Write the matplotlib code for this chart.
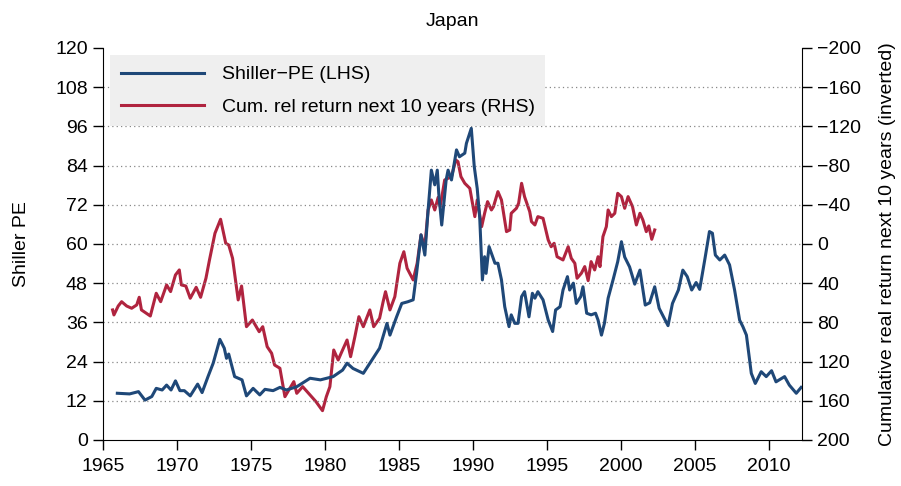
import matplotlib
matplotlib.use("Agg")
import matplotlib.pyplot as plt
import numpy as np

plt.rcParams['font.family'] = ['Liberation Sans', 'DejaVu Sans']

# Shiller PE (left axis)
pe_years = [1965.97, 1966.8, 1967.4, 1967.84, 1968.3, 1968.6, 1969.0, 1969.3, 1969.6, 1969.9,
            1970.2, 1970.5, 1970.9, 1971.4, 1971.7, 1972.1, 1972.45, 1972.9, 1973.2, 1973.35,
            1973.5, 1973.9, 1974.4, 1974.7, 1975.15, 1975.6, 1975.95, 1976.5, 1976.96, 1977.4,
            1978.1, 1979.0, 1979.7, 1980.56, 1981.2, 1981.5, 1981.9, 1982.6, 1983.04, 1983.7,
            1984.2, 1984.4, 1984.85, 1985.2, 1985.6, 1985.97, 1986.2, 1986.5, 1986.76, 1986.98,
            1987.2, 1987.43, 1987.6, 1987.7, 1987.9, 1988.2, 1988.33, 1988.56, 1988.9, 1989.1,
            1989.46, 1989.57, 1989.9, 1990.1, 1990.3, 1990.47, 1990.65, 1990.8, 1990.9, 1991.1,
            1991.5, 1991.7, 1991.94, 1992.16, 1992.45, 1992.6, 1992.84, 1993.06, 1993.3, 1993.5,
            1993.8, 1994.03, 1994.2, 1994.4, 1994.75, 1995.1, 1995.4, 1995.6, 1995.9, 1996.1,
            1996.4, 1996.55, 1996.8, 1997.0, 1997.3, 1997.45, 1997.7, 1998.0, 1998.3, 1998.47,
            1998.7, 1998.9, 1999.15, 1999.5, 1999.8, 2000.05, 2000.27, 2000.6, 2000.95, 2001.3,
            2001.66, 2001.96, 2002.3, 2002.6, 2003.2, 2003.5, 2003.9, 2004.2, 2004.5, 2004.8,
            2005.1, 2005.34, 2005.7, 2006.0, 2006.2, 2006.4, 2006.7, 2007.03, 2007.36, 2007.7,
            2008.04, 2008.26, 2008.5, 2008.83, 2009.1, 2009.5, 2009.84, 2010.2, 2010.5, 2011.08,
            2011.4, 2011.87, 2012.2]
pe_values = [14.3, 14.1, 14.8, 12.2, 13.3, 15.8, 15.3, 16.8, 15.3, 18.1,
             15.1, 15.1, 13.5, 17.1, 14.5, 19.4, 23.5, 30.8, 28.1, 25.0,
             26.3, 19.4, 18.4, 13.5, 15.8, 13.8, 15.5, 15.1, 16.1, 15.3,
             16.3, 18.9, 18.4, 19.4, 21.4, 23.5, 21.9, 20.4, 23.5, 28.1,
             35.7, 32.1, 37.7, 41.8, 42.3, 42.9, 51.0, 62.8, 56.6, 70.4,
             82.6, 78.1, 82.6, 75.5, 65.8, 79.6, 82.6, 79.6, 88.8, 86.7,
             87.8, 90.8, 95.4, 83.7, 77.0, 68.0, 49.0, 56.1, 51.0, 59.2,
             54.1, 54.1, 49.0, 40.8, 34.7, 38.3, 35.7, 35.7, 43.9, 45.4,
             37.7, 44.9, 43.4, 45.4, 42.9, 36.7, 33.2, 39.8, 40.8, 45.9,
             50.0, 45.9, 48.0, 41.8, 43.9, 46.9, 38.8, 38.3, 38.8, 36.7,
             32.1, 35.7, 43.4, 49.3, 54.6, 60.7, 56.0, 53.0, 47.7, 52.0,
             41.3, 42.0, 46.9, 40.3, 35.0, 41.8, 45.9, 52.0, 50.0, 45.9,
             48.2, 46.1, 55.6, 63.8, 63.3, 56.6, 55.1, 56.6, 53.6, 45.9,
             36.7, 34.7, 32.1, 20.4, 17.3, 20.9, 19.4, 21.2, 17.8, 19.4,
             16.8, 14.3, 16.1]

# Cumulative real return next 10 years (right axis, inverted)
ret_years = [1965.65, 1965.74, 1966.03, 1966.26, 1966.6, 1966.94, 1967.28, 1967.45, 1967.6, 1968.2,
             1968.6, 1968.9, 1969.3, 1969.57, 1969.9, 1970.16, 1970.3, 1970.6, 1970.9, 1971.3,
             1971.6, 1971.96, 1972.2, 1972.57, 1972.95, 1973.3, 1973.5, 1973.76, 1974.0, 1974.14,
             1974.37, 1974.7, 1975.1, 1975.56, 1975.8, 1976.1, 1976.4, 1976.6, 1976.96, 1977.14,
             1977.3, 1977.5, 1977.9, 1978.1, 1978.5, 1979.0, 1979.4, 1979.84, 1980.1, 1980.34,
             1980.6, 1980.9, 1981.1, 1981.5, 1981.74, 1982.03, 1982.3, 1982.6, 1983.04, 1983.3,
             1983.7, 1983.94, 1984.1, 1984.4, 1984.73, 1985.07, 1985.34, 1985.56, 1985.97, 1986.24,
             1986.5, 1986.76, 1986.98, 1987.2, 1987.43, 1987.66, 1987.8, 1988.1, 1988.56, 1988.85,
             1989.0, 1989.2, 1989.46, 1989.8, 1990.14, 1990.3, 1990.6, 1990.8, 1991.0, 1991.26,
             1991.4, 1991.7, 1991.94, 1992.28, 1992.5, 1992.6, 1992.95, 1993.1, 1993.3, 1993.5,
             1993.85, 1993.97, 1994.2, 1994.4, 1994.75, 1995.1, 1995.3, 1995.5, 1995.7, 1996.1,
             1996.45, 1996.66, 1996.9, 1997.05, 1997.34, 1997.57, 1997.8, 1998.0, 1998.24, 1998.47,
             1998.6, 1998.8, 1999.03, 1999.15, 1999.37, 1999.6, 1999.8, 2000.05, 2000.27, 2000.5,
             2000.8, 2001.06, 2001.3, 2001.5, 2001.73, 2001.9, 2002.1, 2002.3]
ret_values = [67.3, 72.4, 63.3, 58.9, 63.3, 65.6, 62.2, 54.4, 67.3, 73.5,
              50.3, 58.9, 41.8, 48.6, 31.6, 26.5, 41.8, 42.9, 55.4, 44.2,
              54.4, 35.0, 16.3, -10.9, -25.2, -0.7, 1.0, 14.6, 41.8, 57.1,
              42.9, 84.4, 77.6, 89.5, 84.4, 104.8, 111.5, 123.5, 126.8, 142.1,
              155.8, 150.7, 140.5, 152.4, 145.6, 154.1, 160.9, 170.1, 155.8, 145.6,
              108.2, 118.4, 111.5, 98.0, 115.0, 94.6, 74.2, 84.4, 67.3, 84.4,
              75.8, 58.9, 48.7, 67.3, 53.8, 19.7, 7.9, 24.8, 36.7, 19.7,
              -9.2, 2.8, -34.7, -44.9, -34.7, -47.6, -38.1, -65.3, -68.7, -85.7,
              -84.0, -68.7, -61.9, -56.8, -27.9, -44.9, -17.7, -31.3, -43.2, -34.7,
              -38.1, -53.4, -44.9, -12.6, -14.3, -31.3, -36.4, -41.5, -61.9, -48.3,
              -33.0, -22.8, -19.4, -27.9, -26.2, -4.1, 2.8, -0.7, 13.0, 16.3,
              2.8, 14.6, 19.7, 35.0, 29.9, 23.1, 37.4, 18.0, 26.5, 13.0,
              23.1, -7.5, -17.7, -34.7, -27.9, -31.3, -51.7, -48.3, -36.4, -48.3,
              -38.1, -19.4, -31.3, -24.5, -12.6, -18.4, -4.8, -14.3]

x_ticks = [1965, 1970, 1975, 1980, 1985, 1990, 1995, 2000, 2005, 2010]
left_ticks = np.arange(0, 121, 12)
right_ticks = np.arange(-200, 201, 40)

blue = '#1f4878'
red = '#b0243f'
fs = 14

fig = plt.figure(figsize=(9.01, 4.86), dpi=100)
ax = fig.add_axes([0.1143, 0.0947, 0.7757, 0.8066])
ax2 = ax.twinx()

for v in left_ticks[1:-1]:
    ax.axhline(v, color='#888888', lw=0.9, ls=(0, (1, 2.5)), zorder=0)

l1, = ax.plot(pe_years, pe_values, color=blue, lw=2.2, label='Shiller\u2212PE (LHS)', zorder=3)
l2, = ax2.plot(ret_years, ret_values, color=red, lw=2.2, label='Cum. rel return next 10 years (RHS)', zorder=2)

ax.set_zorder(ax2.get_zorder() + 1)
ax.patch.set_visible(False)

ax.set_xlim(1965, 2012.25)
ax.set_ylim(0, 120)
ax2.set_ylim(200, -200)
ax.set_xticks(x_ticks)
ax.set_yticks(left_ticks)
ax2.set_yticks(right_ticks)
ax2.set_yticklabels([f'{t}'.replace('-', '\u2212') for t in right_ticks])

for a in (ax, ax2):
    a.spines['top'].set_visible(False)
    a.tick_params(direction='out', length=7, width=1, labelsize=fs, pad=4)
ax.tick_params(axis='x', pad=6)
ax.spines['right'].set_visible(False)
ax2.spines['left'].set_visible(False)
ax2.spines['bottom'].set_visible(False)

ax.set_ylabel('Shiller PE', fontsize=fs, labelpad=18)
ax2.set_ylabel('Cumulative real return next 10 years (inverted)', fontsize=fs, labelpad=13)
ax.set_title('Japan', fontsize=fs, pad=16)

leg = ax.legend(handles=[l1, l2], loc='upper left', bbox_to_anchor=(0.01, 0.982),
                borderaxespad=0, frameon=True, fancybox=False, fontsize=fs,
                handlelength=4.3, handletextpad=0.9, borderpad=0.55, labelspacing=0.75)
leg.get_frame().set_facecolor('#efefef')
leg.get_frame().set_edgecolor('none')
leg.get_frame().set_alpha(1)

fig.savefig('out.png', dpi=100)
